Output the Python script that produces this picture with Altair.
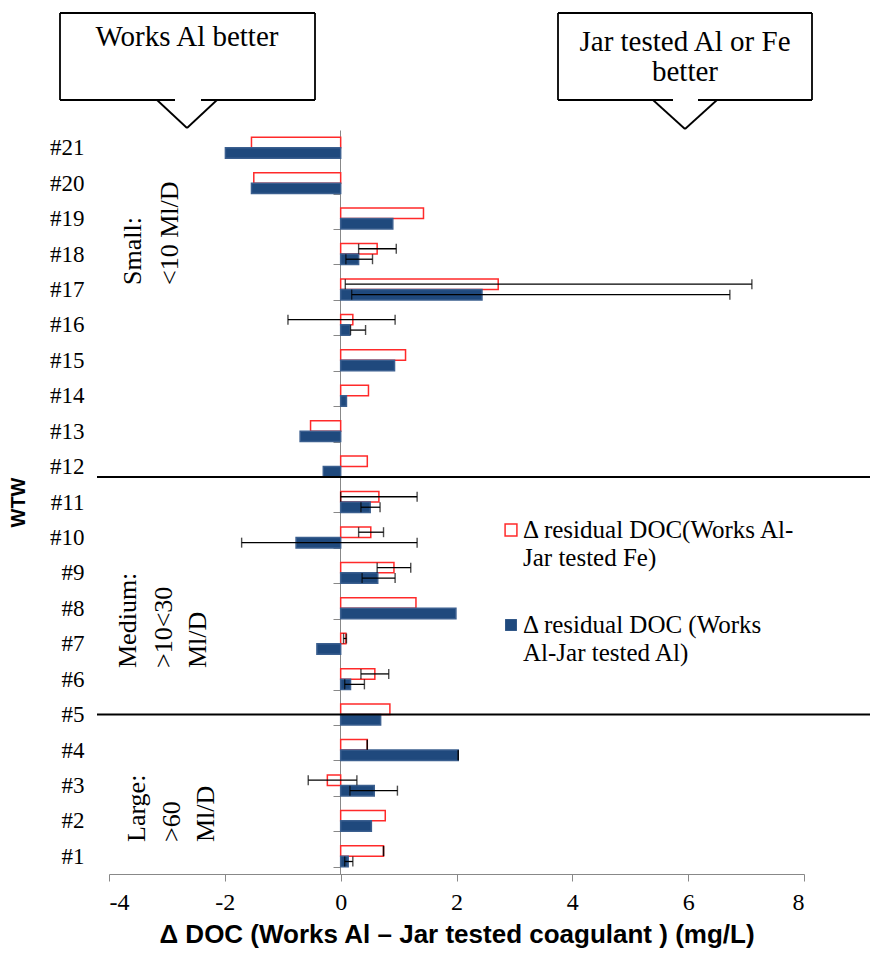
import altair as alt
import pandas as pd

# ---------------- data ----------------
wtw = [f"#{i}" for i in range(1, 22)]
series = ["Fe", "Al"]

fe_val = [0.74, 0.77, -0.23, 0.46, 0.85, 0.59, 0.09, 1.30, 0.92, 0.52, 0.66,
          0.46, -0.52, 0.48, 1.12, 0.21, 2.72, 0.63, 1.43, -1.50, -1.54]
al_val = [0.13, 0.53, 0.58, 2.03, 0.69, 0.17, -0.41, 1.99, 0.64, -0.77, 0.51,
          -0.30, -0.70, 0.10, 0.93, 0.16, 2.44, 0.31, 0.90, -1.54, -1.99]

fe_lo = [0.74, None, -0.56, 0.46, None, 0.35, 0.05, None, 0.63, 0.31, 0.00,
         None, None, None, None, -0.91, 0.08, 0.31, None, None, None]
fe_hi = [0.74, None, 0.28, 0.46, None, 0.83, 0.10, None, 1.21, 0.74, 1.32,
         None, None, None, None, 0.94, 7.10, 0.96, None, None, None]
al_lo = [0.07, None, 0.16, 2.03, None, 0.07, None, None, 0.37, -1.71, 0.35,
         None, None, None, None, 0.17, 0.19, 0.09, None, None, None]
al_hi = [0.21, None, 0.98, 2.03, None, 0.41, None, None, 0.94, 1.32, 0.68,
         None, None, None, None, 0.43, 6.72, 0.55, None, None, None]

x_ticks = [-4, -2, 0, 2, 4, 6, 8]

x_title = "Δ DOC (Works Al – Jar tested coagulant ) (mg/L)"
y_title = "WTW"
legend_fe = ["Δ residual DOC(Works Al-", "Jar tested Fe)"]
legend_al = ["Δ residual DOC (Works", "Al-Jar tested Al)"]
box1_text = ["Works Al better"]
box2_text = ["Jar tested Al or Fe", "better"]
region_small = ["Small:", "<10 Ml/D"]
region_medium = ["Medium:", ">10<30", "Ml/D"]
region_large = ["Large:", ">60", "Ml/D"]
separators = [("#12", 1.0), ("#5", 0.5)]

# ---------------- tables ----------------
rows, errs = [], []
for i, w in enumerate(wtw):
    rows.append({"wtw": w, "series": "Fe", "value": fe_val[i]})
    rows.append({"wtw": w, "series": "Al", "value": al_val[i]})
    if fe_lo[i] is not None:
        errs.append({"wtw": w, "series": "Fe", "lo": fe_lo[i], "hi": fe_hi[i]})
    if al_lo[i] is not None:
        errs.append({"wtw": w, "series": "Al", "lo": al_lo[i], "hi": al_hi[i]})
df = pd.DataFrame(rows)
err_df = pd.DataFrame(errs)
cap_df = pd.concat([
    err_df[["wtw", "series", "lo"]].rename(columns={"lo": "cap"}),
    err_df[["wtw", "series", "hi"]].rename(columns={"hi": "cap"}),
])

W, H = 695, 744
SERIF = "Liberation Serif"
SANS = "Liberation Sans"

xscale = alt.Scale(domain=[-4, 8], nice=False, zero=False)
yscale = alt.Scale(domain=list(reversed(wtw)), paddingInner=0.41, paddingOuter=0.205)
yoff = alt.YOffset("series:N", scale=alt.Scale(domain=series))

xaxis = alt.Axis(values=x_ticks, labelExpr="'' + datum.value", title=x_title,
                 titleFont=SANS, titleFontSize=26,
                 titleFontWeight="bold", titleColor="black", titlePadding=7,
                 labelFont=SERIF, labelFontSize=24, labelColor="black", labelPadding=9,
                 tickSize=7, tickColor="#888888", domainColor="#888888", grid=False)
yaxis = alt.Axis(title=y_title, titleFont=SANS, titleFontSize=20, titleFontWeight="bold",
                 titleColor="black", titleX=-322, titleY=H / 2, titleAngle=270,
                 titleAlign="center", titleBaseline="middle",
                 labelFont=SERIF, labelFontSize=23, labelColor="black", labelPadding=249,
                 offset=-231, tickBand="extent", tickSize=7, tickColor="#888888",
                 domainColor="#888888", grid=False)

bars = alt.Chart(df).mark_bar(strokeWidth=1.5).encode(
    x=alt.X("value:Q", scale=xscale, axis=xaxis),
    x2=alt.datum(0),
    y=alt.Y("wtw:N", scale=yscale, axis=yaxis),
    yOffset=yoff,
    fill=alt.Fill("series:N", scale=alt.Scale(domain=series, range=["white", "#1f497d"]), legend=None),
    stroke=alt.Stroke("series:N", scale=alt.Scale(domain=series, range=["#ff2a2a", "#3b5f8f"]), legend=None),
)

err_rules = alt.Chart(err_df).mark_rule(color="black", strokeWidth=1.3).encode(
    x=alt.X("lo:Q", scale=xscale, axis=xaxis),
    x2="hi:Q",
    y=alt.Y("wtw:N", scale=yscale, axis=yaxis),
    yOffset=yoff,
)
caps = alt.Chart(cap_df).mark_tick(color="black", thickness=1.4, size=10, orient="vertical").encode(
    x=alt.X("cap:Q", scale=xscale, axis=xaxis),
    y=alt.Y("wtw:N", scale=yscale, axis=yaxis),
    yOffset=yoff,
)

sep_layers = []
for w, bp in separators:
    sep_layers.append(
        alt.Chart(pd.DataFrame({"wtw": [w]})).mark_rule(color="black", strokeWidth=2).encode(
            y=alt.Y("wtw:N", scale=yscale, axis=yaxis, bandPosition=bp),
            x=alt.value(-12), x2=alt.value(761),
        )
    )

main = alt.layer(bars, err_rules, caps, *sep_layers)

# ---------------- annotations (pixel positions) ----------------
segs = pd.DataFrame([
    # box 1
    (-49, -117, 206, -117), (-49, -117, -49, -30), (206, -117, 206, -30),
    (-49, -30, 66, -30), (92, -30, 206, -30), (48, -30, 78, -2), (78, -2, 108, -30),
    # box 2
    (449, -117, 703, -117), (449, -117, 449, -30), (703, -117, 703, -30),
    (449, -30, 564, -30), (589, -30, 703, -30), (544, -30, 576, -1), (576, -1, 608, -30),
], columns=["x", "y", "x2", "y2"])

seg_layer = alt.Chart(segs).mark_rule(color="black", strokeWidth=1.8).encode(
    x=alt.X("x:Q", scale=None, axis=None), y=alt.Y("y:Q", scale=None, axis=None),
    x2="x2:Q", y2="y2:Q",
)

box_txt = pd.DataFrame({
    "x": [78, 576, 576], "y": [-93, -88, -58],
    "t": box1_text + box2_text,
})
box_layer = alt.Chart(box_txt).mark_text(font=SERIF, fontSize=29, color="black",
                                          align="center", baseline="middle").encode(
    x=alt.X("x:Q", scale=None, axis=None), y=alt.Y("y:Q", scale=None, axis=None), text="t:N")

reg_txt = pd.DataFrame({
    "x": [24, 61, 19, 55, 89, 28, 63, 97],
    "y": [155, 155, 538, 538, 538, 712, 712, 712],
    "t": region_small + region_medium + region_large,
})
reg_layer = alt.Chart(reg_txt).mark_text(font=SERIF, fontSize=26, color="black", angle=270,
                                          align="left", baseline="middle").encode(
    x=alt.X("x:Q", scale=None, axis=None), y=alt.Y("y:Q", scale=None, axis=None), text="t:N")

leg_txt = pd.DataFrame({
    "x": [414, 414, 414, 414], "y": [400, 428, 495, 523],
    "t": legend_fe + legend_al,
})
leg_layer = alt.Chart(leg_txt).mark_text(font=SERIF, fontSize=25, color="black",
                                          align="left", baseline="middle").encode(
    x=alt.X("x:Q", scale=None, axis=None), y=alt.Y("y:Q", scale=None, axis=None), text="t:N")

sq_fe = alt.Chart(pd.DataFrame({"a": [0]})).mark_point(
    shape="square", size=140, filled=True, fill="white", stroke="#ff2a2a", strokeWidth=1.5, opacity=1
).encode(x=alt.value(402), y=alt.value(400))
sq_al = alt.Chart(pd.DataFrame({"a": [0]})).mark_point(
    shape="square", size=140, filled=True, color="#1f497d", opacity=1
).encode(x=alt.value(402), y=alt.value(495))

annot = alt.layer(seg_layer, box_layer, reg_layer, leg_layer, sq_fe, sq_al)

chart = alt.layer(main, annot).resolve_scale(x="independent", y="independent").properties(
    width=W, height=H,
    padding={"left": 109, "top": 130, "right": 66, "bottom": 80},
    autosize=alt.AutoSizeParams(type="none"),
    background="white",
).configure_view(stroke=None).configure_axis(labelFont=SERIF)

chart.save("out.html", embed_options={"renderer": "svg", "actions": False})
